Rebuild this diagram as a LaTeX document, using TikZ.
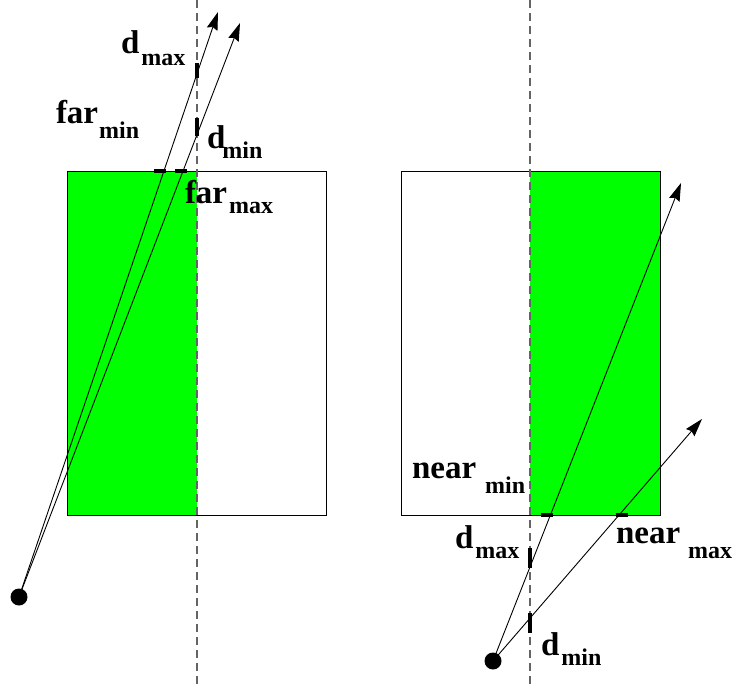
\documentclass[tikz,border=0pt]{standalone}
\usepackage{fontspec}
\setmainfont{Liberation Serif}
\usetikzlibrary{arrows.meta}
\definecolor{fillgreen}{RGB}{0,255,0}
\definecolor{dashgray}{RGB}{100,100,100}
\newcommand\mainfs{\fontsize{33}{33}\selectfont\bfseries}
\newcommand\subfs{\fontsize{24}{24}\selectfont\bfseries}
\newcommand\lbl[4]{{\mainfs #1}\kern#3pt\raisebox{-#4pt}{\subfs #2}}
\tikzset{
  lab/.style={anchor=base west, inner sep=0pt, outer sep=0pt},
  box/.style={draw=black, line width=1pt},
  axis/.style={draw=dashgray, line width=1.2pt, dash pattern=on 8pt off 5pt},
  ray/.style={draw=black, line width=0.9pt, -{Stealth[length=18pt,width=11pt,inset=2pt]}},
  tickmark/.style={draw=black, line width=3.4pt},
  eye/.style={circle, fill=black, inner sep=0pt, minimum size=17pt}
}
\begin{document}
\begin{tikzpicture}[x=1pt,y=-1pt]
\useasboundingbox (0,0) rectangle (736,688);
% green regions
\fill[fillgreen] (67,171) rectangle (197,515);
\fill[fillgreen] (530,171) rectangle (660,515);
% boxes
\draw[box] (67,171) rectangle (326,515);
\draw[box] (401,171) rectangle (660,515);
% dashed axes
\draw[axis] (197,0) -- (197,688);
\draw[axis] (530,0) -- (530,688);
% eyes
\node[eye] (eyeL) at (19,597) {};
\node[eye] (eyeR) at (493,661) {};
% ray tips
\coordinate (tipL1) at (218,12);
\coordinate (tipL2) at (240,23);
\coordinate (tipR1) at (681,183);
\coordinate (tipR2) at (702,419);
% rays
\draw[ray] (eyeL.center) -- (tipL1);
\draw[ray] (eyeL.center) -- (tipL2);
\draw[ray] (eyeR.center) -- (tipR1);
\draw[ray] (eyeR.center) -- (tipR2);
% tick marks
\draw[tickmark] (197,63) -- (197,78);
\draw[tickmark] (197,118) -- (197,136);
\draw[tickmark] (154,171) -- (166,171);
\draw[tickmark] (175,171) -- (187,171);
\draw[tickmark] (541,515) -- (553,515);
\draw[tickmark] (616,515) -- (628,515);
\draw[tickmark] (530,548) -- (530,568);
\draw[tickmark] (530,613) -- (530,633);
% labels
\node[lab] (dmaxL) at (121,53) {\lbl{d}{max}{2}{12}};
\node[lab] (farmin) at (56,123) {\lbl{far}{min}{1}{15}};
\node[lab] (dminL) at (207,148) {\lbl{d}{min}{-3}{10}};
\node[lab] (farmax) at (185,203) {\lbl{far}{max}{2}{10}};
\node[lab] (nearmin) at (412,478) {\lbl{near}{min}{9}{15}};
\node[lab] (nearmax) at (616,543) {\lbl{near}{max}{8}{15}};
\node[lab] (dmaxR) at (455,548) {\lbl{d}{max}{2}{10}};
\node[lab] (dminR) at (541,655) {\lbl{d}{min}{2}{10}};
\end{tikzpicture}
\end{document}
